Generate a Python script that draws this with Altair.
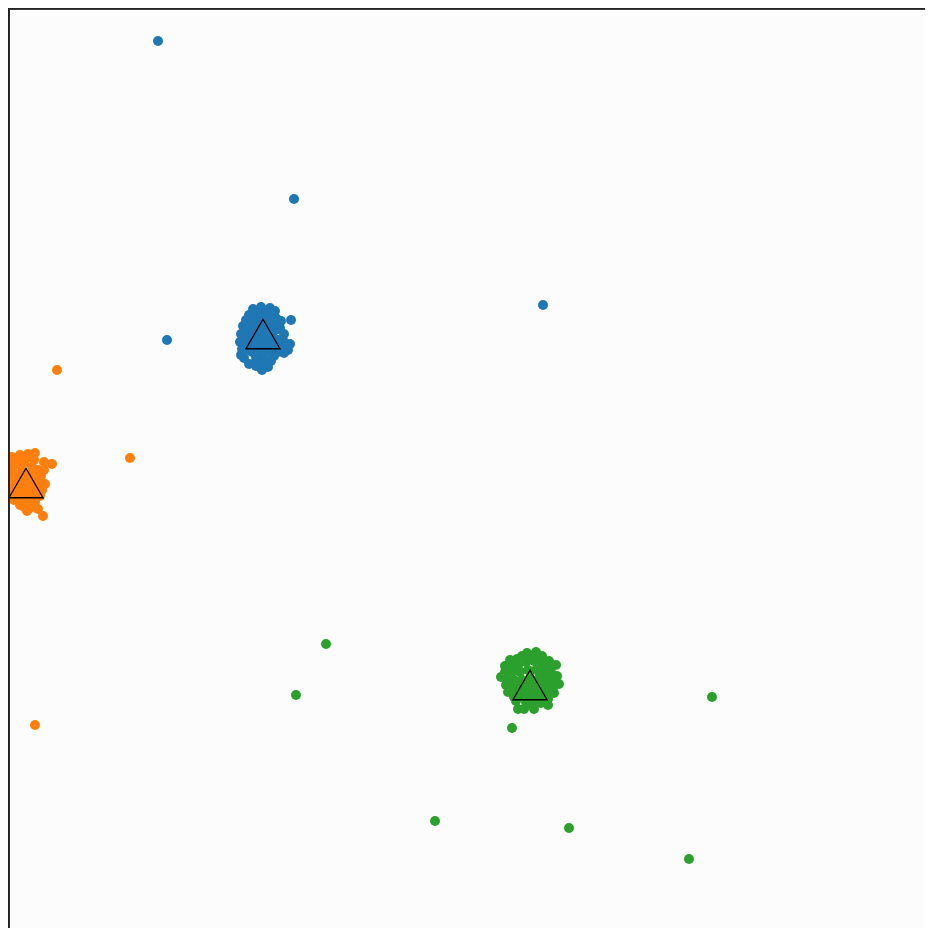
import altair as alt
import pandas as pd

# Cluster members (x, y), in chart units (y grows downward)
blue_x = [253, 261, 270, 275, 271, 291, 281, 280, 284, 283, 290, 288, 284, 278, 274, 271, 268, 262, 256, 249,
          244, 241, 242, 240, 241, 243, 246, 249, 257,
          255, 263, 270, 250, 258, 266, 274, 248, 256, 264, 272, 278, 250, 258, 266, 274, 252, 260, 268, 263, 256, 266,
          246, 252, 260, 266, 276, 262, 270, 254, 262, 270, 278, 246, 256, 262, 276, 244, 286,
          158, 294, 543, 167]
blue_y = [309, 307, 308, 311, 314, 320, 321, 328, 334, 340, 344, 350, 353, 352, 356, 361, 367, 370, 366, 364,
          358, 355, 349, 342, 334, 326, 320, 315, 312,
          320, 318, 320, 328, 326, 326, 326, 336, 334, 334, 334, 340, 344, 342, 342, 345, 352, 350, 352, 358, 358, 362,
          330, 322, 314, 313, 318, 322, 330, 340, 346, 348, 346, 350, 362, 364, 330, 340, 345,
          41, 199, 305, 340]

orange_x = [12, 20, 28, 35, 34, 44, 52, 44, 41, 45, 42, 40, 35, 38, 43, 30, 27, 20, 14, 8, 5, 4, 6, 10,
            16, 24, 32, 14, 22, 30, 36, 14, 22, 30, 36, 16, 24, 30, 20, 28,
            10, 18, 26, 38, 8, 18, 26, 34, 40, 10, 18, 26, 34, 12, 32, 24,
            57, 130, 35]
orange_y = [457, 455, 454, 453, 460, 462, 464, 470, 476, 484, 490, 496, 502, 509, 516, 508, 511, 505, 500, 495, 488, 478, 468, 462,
            465, 463, 467, 474, 472, 475, 480, 484, 482, 486, 490, 492, 492, 496, 499, 502,
            470, 458, 458, 470, 480, 478, 478, 474, 486, 488, 488, 496, 496, 496, 505, 507,
            370, 458, 725]

green_x = [527, 536, 542, 549, 556, 550, 557, 559, 553, 554, 548, 548, 541, 534, 529, 518, 514, 508, 506, 501, 505, 505, 510, 517, 522,
           518, 526, 534, 542, 512, 520, 528, 536, 544, 514, 522, 530, 538, 546, 552, 518, 526, 534, 542, 548, 522, 530, 538, 526, 540,
           530, 540, 546, 510, 552, 506, 540, 548, 512, 520, 534, 544, 516, 534, 544, 524,
           512, 326, 296, 712, 435, 569, 689]
green_y = [653, 652, 656, 661, 665, 669, 676, 684, 690, 693, 699, 705, 703, 709, 704, 709, 697, 692, 685, 677, 672, 666, 660, 659, 656,
           666, 662, 661, 664, 672, 672, 670, 670, 672, 680, 680, 678, 680, 680, 681, 688, 688, 688, 688, 690, 696, 696, 696, 702, 700,
           656, 660, 666, 666, 674, 679, 676, 686, 688, 692, 692, 694, 701, 703, 702, 709,
           728, 644, 695, 697, 821, 828, 859]

# Cluster centres
centre_x = [263, 26, 530]
centre_y = [334, 483, 685]
centre_label = ["0", "1", "2"]

cluster_names = ["0", "1", "2"]
cluster_colors = ["#1f77b4", "#ff7f0e", "#2ca02c"]

points = pd.DataFrame({
    "x": blue_x + orange_x + green_x,
    "y": blue_y + orange_y + green_y,
    "cluster": ["0"] * len(blue_x) + ["1"] * len(orange_x) + ["2"] * len(green_x),
})
centres = pd.DataFrame({"x": centre_x, "y": centre_y, "cluster": centre_label})

W, H = 917, 920
xs = alt.Scale(domain=[8, 8 + W], nice=False, zero=False)
ys = alt.Scale(domain=[8, 8 + H], nice=False, zero=False, reverse=True)
cs = alt.Scale(domain=cluster_names, range=cluster_colors)

dots = alt.Chart(points).mark_circle(size=100, opacity=1, clip=True).encode(
    x=alt.X("x:Q", scale=xs, axis=None),
    y=alt.Y("y:Q", scale=ys, axis=None),
    color=alt.Color("cluster:N", scale=cs, legend=None),
)

tri = alt.Chart(centres).mark_point(
    shape="triangle-up", size=1160, filled=True, opacity=1,
    stroke="black", strokeWidth=1.3, clip=True,
).encode(
    x=alt.X("x:Q", scale=xs, axis=None),
    y=alt.Y("y:Q", scale=ys, axis=None),
    fill=alt.Fill("cluster:N", scale=cs, legend=None),
)

left_border = alt.Chart(centres).mark_rule(color="#222222", strokeWidth=1.6).encode(
    x=alt.value(0.8), y=alt.value(0), y2=alt.value(H)
)
top_border = alt.Chart(centres).mark_rule(color="#222222", strokeWidth=1.6).encode(
    y=alt.value(0.8), x=alt.value(0), x2=alt.value(W)
)

chart = alt.layer(dots, tri, left_border, top_border).properties(
    width=W, height=H,
    padding=0,
    autosize=alt.AutoSizeParams(type="none"),
    background="#fcfcfc",
).configure_view(stroke=None, fill="#fcfcfc")

chart.save("out.html", embed_options={"renderer": "svg", "actions": False})
